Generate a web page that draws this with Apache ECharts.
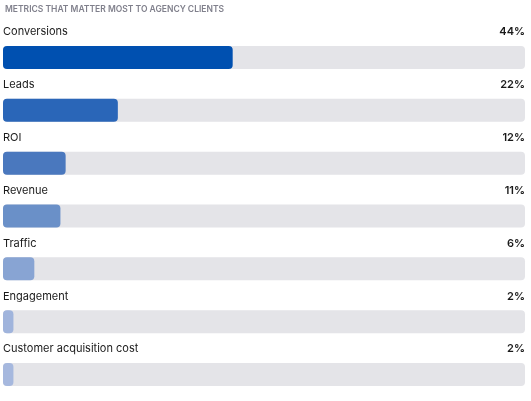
<!DOCTYPE html>
<html><head><meta charset="utf-8">
<script src="https://cdn.jsdelivr.net/npm/echarts@6/dist/echarts.min.js"></script>
<style>html,body{margin:0;padding:0;background:#fff}#c{width:531px;height:401px}</style>
</head><body><div id="c"></div>
<script>
const categories = ['Conversions','Leads','ROI','Revenue','Traffic','Engagement','Customer acquisition cost'];
const values = [44,22,12,11,6,2,2];
const colors = ['#0050b0','#2a66b8','#4a78be','#6a90c8','#88a4d3','#a0b4dc','#a6b8de'];
const chart = echarts.init(document.getElementById('c'));
chart.setOption({
  animation:false,
  title:{text:'METRICS THAT MATTER MOST TO AGENCY CLIENTS',left:0,top:0,
    textStyle:{fontFamily:'Inter',fontSize:8.5,fontWeight:600,color:'#80808c'}},
  grid:{left:1,right:6,top:31,bottom:-6},
  xAxis:{type:'value',min:0,max:100,show:false},
  yAxis:[{type:'category',inverse:true,data:categories,axisLine:{show:false},axisTick:{show:false},
    axisLabel:{inside:true,align:'left',verticalAlign:'bottom',padding:[0,0,20,0],margin:0,
      fontFamily:'Inter',fontSize:11,color:'#1a1a1a'}},
   {type:'category',inverse:true,position:'right',data:values.map(v=>v+'%'),axisLine:{show:false},axisTick:{show:false},
    axisLabel:{inside:true,align:'right',verticalAlign:'bottom',padding:[0,0,20,0],margin:0,
      fontFamily:'Inter',fontSize:11,fontWeight:600,color:'#1a1a1a'}}],
  series:[{type:'bar',data:values.map((v,i)=>({value:v,itemStyle:{color:colors[i]}})),
    barWidth:23,itemStyle:{borderRadius:4},
    showBackground:true,backgroundStyle:{color:'#e4e4e8',borderRadius:4}}]
});
</script></body></html>
